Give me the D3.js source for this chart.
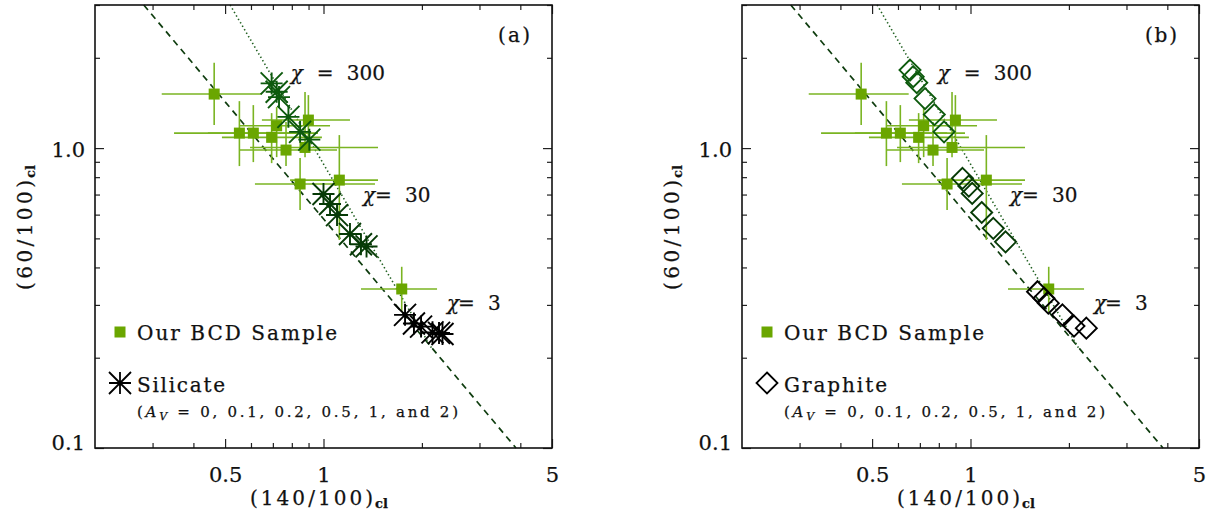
<!DOCTYPE html>
<html>
<head>
<meta charset="utf-8">
<script src="https://cdn.jsdelivr.net/npm/d3@7"></script>
<style>
body { margin: 0; background: #fff; }
svg { display: block; }
text { font-family: "DejaVu Serif", serif; fill: #111; stroke: #111; stroke-width: 0.25; }
.tick text { font-size: 21px; }
</style>
</head>
<body>
<div id="chart"></div>
<script>
// observed BCD colours, (140/100)cl vs (60/100)cl, with error bars
var bcdX   = [0.463, 0.553, 0.610, 0.694, 0.719, 0.768, 0.899, 0.878, 0.848, 1.118, 1.735];
var bcdY   = [1.514, 1.122, 1.122, 1.086, 1.187, 0.985, 1.240, 1.005, 0.759, 0.782, 0.339];
var bcdXlo = [0.320, 0.349, 0.443, 0.489, 0.555, 0.555, 0.648, 0.596, 0.617, 0.790, 1.302];
var bcdXhi = [0.647, 0.848, 0.962, 0.989, 1.047, 1.100, 1.205, 1.468, 1.437, 1.468, 2.225];
var bcdYlo = [1.193, 0.871, 0.898, 0.891, 0.933, 0.871, 0.985, 0.933, 0.622, 0.494, 0.284];
var bcdYhi = [1.925, 1.434, 1.391, 1.308, 1.370, 1.221, 1.502, 1.537, 0.926, 1.105, 0.402];

// model grids: one row per chi, one point per A_V
var chiLevels = [300, 30, 3];
var avValues = [0, 0.1, 0.2, 0.5, 1, 2];

var silicateX = [
  [0.694, 0.719, 0.731, 0.781, 0.848, 0.905],
  [1.000, 1.047, 1.100, 1.205, 1.302, 1.354],
  [1.776, 1.891, 1.988, 2.155, 2.256, 2.312]
];
var silicateY = [
  [1.643, 1.541, 1.479, 1.271, 1.133, 1.067],
  [0.703, 0.651, 0.598, 0.517, 0.478, 0.470],
  [0.278, 0.260, 0.254, 0.243, 0.242, 0.240]
];
var graphiteX = [
  [0.653, 0.668, 0.685, 0.726, 0.775, 0.830],
  [0.945, 0.988, 1.012, 1.082, 1.174, 1.280],
  [1.603, 1.678, 1.730, 1.911, 2.073, 2.261]
];
var graphiteY = [
  [1.820, 1.731, 1.653, 1.462, 1.293, 1.133],
  [0.793, 0.747, 0.706, 0.610, 0.540, 0.487],
  [0.332, 0.316, 0.304, 0.278, 0.255, 0.251]
];

// reference lines
var dashLineX = [0.282, 3.88];
var dashLineY = [3, 0.1];
var dotLineX = [0.518, 2.143];
var dotLineY = [3, 0.215];

// ticks
var xMajor = [0.5, 1, 5];
var xMajorLabels = ["0.5", "1", "5"];
var xMinor = [0.3, 0.4, 0.6, 0.7, 0.8, 0.9, 2, 3, 4];
var yMajor = [0.1, 1];
var yMajorLabels = ["0.1", "1.0"];
var yMinor = [0.2, 0.3, 0.4, 0.5, 0.6, 0.7, 0.8, 0.9, 2, 3];

var svgWidth = 1212, svgHeight = 523;
var plotW = 457, plotH = 443, plotTop = 5;
var panelLeft = [95, 742];
var chiColors = ["#0d5a0d", "#063a06", "#000000"];
var dataColor = "#6aa600";
var barColor = "#7ab422";

var svg = d3.select("#chart").append("svg")
  .attr("width", svgWidth)
  .attr("height", svgHeight);

function asterisk(s) {
  return `M${-s},0H${s}M0,${-s}V${s}M${-s},${-s}L${s},${s}M${-s},${s}L${s},${-s}`;
}
function diamond(s) {
  return `M0,${-s}L${s},0L0,${s}L${-s},0Z`;
}

function chiLabel(g, x, y, parts) {
  var t = g.append("text").attr("y", y).attr("font-size", 20);
  t.append("tspan").attr("x", x).attr("font-style", "italic").text("χ");
  t.append("tspan").attr("x", x + parts[0]).text("=");
  t.append("tspan").attr("x", x + parts[1]).text(parts[2]);
}

function drawPanel(i, tag, modelX, modelY, markerPath, legendName, legendWidth) {
  var ox = panelLeft[i];
  var x = d3.scaleLog().domain([0.2, 5]).range([0, plotW]);
  var y = d3.scaleLog().domain([0.1, 3]).range([plotH, 0]);

  var g = svg.append("g").attr("transform", `translate(${ox}, ${plotTop})`);

  // reference lines
  var line = d3.line().x(d => x(d[0])).y(d => y(d[1]));
  g.append("path")
    .datum(d3.zip(dashLineX, dashLineY))
    .attr("d", line)
    .attr("fill", "none")
    .attr("stroke", "#0f3d0f")
    .attr("stroke-width", 1.7)
    .attr("stroke-dasharray", "6.5,5");
  g.append("path")
    .datum(d3.zip(dotLineX, dotLineY))
    .attr("d", line)
    .attr("fill", "none")
    .attr("stroke", "#1f5f1f")
    .attr("stroke-width", 1.6)
    .attr("stroke-dasharray", "1.4,2.6");

  // error bars
  var idx = d3.range(bcdX.length);
  g.selectAll(".xerr").data(idx).enter().append("line")
    .attr("x1", d => x(bcdXlo[d])).attr("x2", d => x(bcdXhi[d]))
    .attr("y1", d => y(bcdY[d])).attr("y2", d => y(bcdY[d]))
    .attr("stroke", barColor).attr("stroke-width", 1.6);
  g.selectAll(".yerr").data(idx).enter().append("line")
    .attr("x1", d => x(bcdX[d])).attr("x2", d => x(bcdX[d]))
    .attr("y1", d => y(bcdYlo[d])).attr("y2", d => y(bcdYhi[d]))
    .attr("stroke", barColor).attr("stroke-width", 1.6);
  g.selectAll(".sq").data(idx).enter().append("rect")
    .attr("x", d => x(bcdX[d]) - 5.5).attr("y", d => y(bcdY[d]) - 5.5)
    .attr("width", 11).attr("height", 11)
    .attr("fill", dataColor);

  // model points
  chiLevels.forEach(function(chi, k) {
    g.selectAll(".m" + k).data(avValues).enter().append("path")
      .attr("transform", (d, j) => `translate(${x(modelX[k][j])}, ${y(modelY[k][j])})`)
      .attr("d", markerPath)
      .attr("fill", "none")
      .attr("stroke", chiColors[k])
      .attr("stroke-width", 1.9);
  });

  // axes: major and minor ticks, all pointing inward
  function ax(axisFn, scale, vals, size, labels) {
    var a = axisFn(scale).tickValues(vals).tickSizeInner(-size).tickSizeOuter(0);
    if (labels) a.tickFormat((d, j) => labels[j]);
    else a.tickFormat("");
    return a;
  }
  g.append("g").attr("transform", `translate(0, ${plotH})`)
    .call(ax(d3.axisBottom, x, xMajor, 9, xMajorLabels).tickPadding(19.5));
  g.append("g").attr("transform", `translate(0, ${plotH})`)
    .call(ax(d3.axisBottom, x, xMinor, 5));
  g.append("g").call(ax(d3.axisTop, x, xMajor, 9));
  g.append("g").call(ax(d3.axisTop, x, xMinor, 5));
  var yl = g.append("g").call(ax(d3.axisLeft, y, yMajor, 9, yMajorLabels).tickPadding(10));
  g.append("g").call(ax(d3.axisLeft, y, yMinor, 5));
  g.append("g").attr("transform", `translate(${plotW}, 0)`)
    .call(ax(d3.axisRight, y, yMajor, 9));
  g.append("g").attr("transform", `translate(${plotW}, 0)`)
    .call(ax(d3.axisRight, y, yMinor, 5));

  g.selectAll(".domain").remove();
  g.selectAll(".tick line").attr("stroke", "#222").attr("stroke-width", 1.2);
  g.selectAll(".tick text")
    .attr("font-family", "DejaVu Serif, serif")
    .attr("fill", "#111");
  yl.selectAll(".tick text").attr("dy", d => d === 0.1 ? "0.05em" : "0.4em");

  // frame
  g.append("rect")
    .attr("width", plotW).attr("height", plotH)
    .attr("fill", "none").attr("stroke", "#111").attr("stroke-width", 1.6);

  // annotations
  g.append("text").attr("x", 403).attr("y", 36.7).attr("font-size", 20)
    .attr("textLength", 32).text(tag);
  chiLabel(g, 195.7, 75, [26, 56, "300"]);
  chiLabel(g, 268, 196.7, [12, 42, "30"]);
  chiLabel(g, 352, 305, [11, 41, "3"]);

  // legend
  g.append("rect").attr("x", 25 - 5.5).attr("y", 327 - 5.5)
    .attr("width", 11).attr("height", 11).attr("fill", dataColor);
  g.append("text").attr("x", 42).attr("y", 334.5).attr("font-size", 20)
    .attr("textLength", 200).attr("lengthAdjust", "spacing")
    .text("Our BCD Sample");
  g.append("path").attr("transform", "translate(25, 378)")
    .attr("d", markerPath).attr("fill", "none")
    .attr("stroke", "#000").attr("stroke-width", 1.8);
  g.append("text").attr("x", 42).attr("y", 386.5).attr("font-size", 20)
    .attr("textLength", legendWidth).attr("lengthAdjust", "spacing")
    .text(legendName);
  var av = g.append("text").attr("x", 42).attr("y", 412).attr("font-size", 15)
    .attr("textLength", 321).attr("lengthAdjust", "spacing");
  av.append("tspan").text("(");
  av.append("tspan").attr("font-style", "italic").text("A");
  av.append("tspan").attr("font-style", "italic").attr("font-size", 11).attr("dy", 3).text("V");
  av.append("tspan").attr("dy", -3).text(" = 0, 0.1, 0.2, 0.5, 1, and 2)");

  // axis titles
  g.append("text").attr("x", 155).attr("y", 500).attr("font-size", 20)
    .attr("textLength", 123).attr("lengthAdjust", "spacing").text("(140/100)");
  g.append("text").attr("x", 280).attr("y", 503).attr("font-size", 13)
    .attr("font-weight", "bold").text("cl");

  var yt = g.append("g").attr("transform", `translate(-63, 222) rotate(-90)`);
  yt.append("text").attr("x", -63).attr("y", 0).attr("font-size", 20)
    .attr("textLength", 110).attr("lengthAdjust", "spacing").text("(60/100)");
  yt.append("text").attr("x", 49).attr("y", 3).attr("font-size", 13)
    .attr("font-weight", "bold").text("cl");
}

drawPanel(0, "(a)", silicateX, silicateY, asterisk(11), "Silicate", 88);
drawPanel(1, "(b)", graphiteX, graphiteY, diamond(10.5), "Graphite", 103);
</script>
</body>
</html>
